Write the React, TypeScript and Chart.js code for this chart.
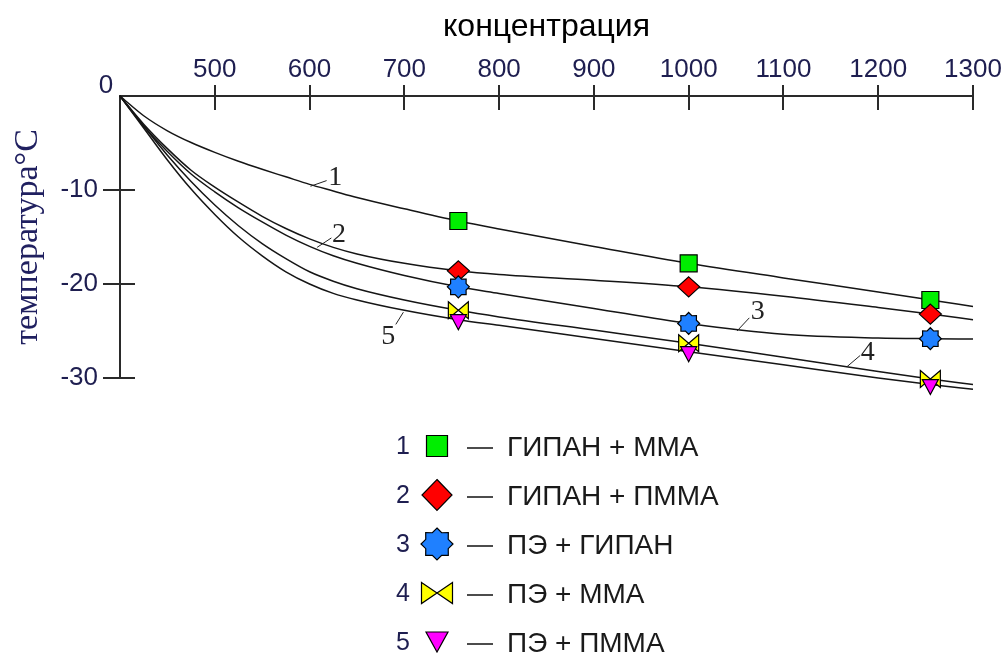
import React, { useEffect, useRef } from 'react';
import { Chart, registerables } from 'chart.js';

Chart.register(...registerables);

// ---- data ----
const xGrid = [400, 425, 450, 475, 500, 525, 550, 575, 600, 625, 650, 700, 757, 800, 900, 1000, 1100, 1200, 1255, 1300];
const series1 = [0, -2.1, -3.7, -4.95, -6.0, -6.95, -7.8, -8.6, -9.4, -10.1, -10.8, -12.0, -13.3, -14.15, -16.0, -17.8, -19.35, -20.85, -21.7, -22.4];
const series2 = [0, -3.0, -5.6, -7.9, -9.7, -11.3, -12.8, -14.1, -15.2, -16.1, -16.8, -17.8, -18.6, -19.0, -19.6, -20.3, -21.3, -22.5, -23.2, -23.8];
const series3 = [0, -3.2, -5.9, -8.3, -10.2, -11.9, -13.4, -14.8, -16.0, -17.0, -17.8, -19.1, -20.3, -21.0, -22.6, -24.2, -25.35, -25.75, -25.82, -25.85];
const series4 = [0, -3.2, -6.3, -9.1, -11.6, -13.8, -15.7, -17.3, -18.7, -19.7, -20.5, -21.7, -22.8, -23.5, -24.9, -26.3, -27.8, -29.3, -30.1, -30.7];
const series5 = [0, -3.4, -6.8, -9.9, -12.6, -15.0, -17.0, -18.7, -20.0, -21.0, -21.7, -22.8, -23.8, -24.4, -25.8, -27.2, -28.6, -30.0, -30.7, -31.2];
const markerX = [757, 1000, 1255];
const seriesNames = ['ГИПАН + ММА', 'ГИПАН + ПММА', 'ПЭ + ГИПАН', 'ПЭ + ММА', 'ПЭ + ПММА'];
const seriesNumbers = ['1', '2', '3', '4', '5'];
const xTicks = [500, 600, 700, 800, 900, 1000, 1100, 1200, 1300];
const yTicks = [0, -10, -20, -30];
const xTitle = 'концентрация';
const yTitle = 'температура°С';
// curve number annotations (data units)
const noteX = [627, 631, 1073, 1189, 683];
const noteY = [-8.7, -14.8, -22.9, -27.3, -25.6];
const leaderFromX = [601, 608, 1051, 1167, 699];
const leaderFromY = [-9.6, -16.1, -25.0, -28.8, -23.0];
const leaderToX = [618, 623, 1064, 1181, 691];
const leaderToY = [-9.0, -15.1, -23.6, -27.6, -24.3];

const allSeries = [series1, series2, series3, series4, series5];

// ---- styles ----
const markerKinds = ['square', 'diamond', 'star', 'bowtie', 'triangle'];
const markerFill = ['#00ee00', '#ff0000', '#1f80ff', '#ffff00', '#ff00ff'];
const plotMarkerSize = [[17, 17], [22, 20], [22, 22], [20, 17], [16, 15]];
const legendMarkerSize = [[21, 21], [30, 31], [32, 32], [31, 21], [22, 20]];

const SANS = '"Liberation Sans", Arial, sans-serif';
const SERIF = '"Liberation Serif", "Times New Roman", serif';
const TICK_COLOR = '#1e1e50';

function shapePath(ctx: CanvasRenderingContext2D, kind: string, cx: number, cy: number, w: number, h: number, centroid: boolean) {
  ctx.beginPath();
  if (kind === 'square') {
    ctx.rect(cx - w / 2, cy - h / 2, w, h);
  } else if (kind === 'diamond') {
    ctx.moveTo(cx, cy - h / 2);
    ctx.lineTo(cx + w / 2, cy);
    ctx.lineTo(cx, cy + h / 2);
    ctx.lineTo(cx - w / 2, cy);
    ctx.closePath();
  } else if (kind === 'star') {
    const R = w / 2;
    const r = R * 0.76;
    for (let i = 0; i < 16; i++) {
      const a = -Math.PI / 2 + (i * Math.PI) / 8;
      const rr = i % 2 === 0 ? R : r;
      const px = cx + rr * Math.cos(a);
      const py = cy + rr * Math.sin(a);
      if (i === 0) ctx.moveTo(px, py);
      else ctx.lineTo(px, py);
    }
    ctx.closePath();
  } else if (kind === 'bowtie') {
    ctx.moveTo(cx - w / 2, cy - h / 2);
    ctx.lineTo(cx, cy);
    ctx.lineTo(cx - w / 2, cy + h / 2);
    ctx.closePath();
    ctx.moveTo(cx + w / 2, cy - h / 2);
    ctx.lineTo(cx, cy);
    ctx.lineTo(cx + w / 2, cy + h / 2);
    ctx.closePath();
  } else {
    // downward triangle; anchored at centroid in the plot
    const top = centroid ? cy - h / 3 : cy - h / 2;
    ctx.moveTo(cx - w / 2, top);
    ctx.lineTo(cx + w / 2, top);
    ctx.lineTo(cx, top + h);
    ctx.closePath();
  }
}

function drawShape(ctx: CanvasRenderingContext2D, kind: string, fill: string, cx: number, cy: number, w: number, h: number, centroid = false) {
  ctx.save();
  shapePath(ctx, kind, cx, cy, w, h, centroid);
  ctx.fillStyle = fill;
  ctx.fill();
  ctx.strokeStyle = '#000';
  ctx.lineWidth = 1.2;
  ctx.lineJoin = 'miter';
  ctx.stroke();
  ctx.restore();
}

const markerPlugin = {
  id: 'markers',
  afterDatasetsDraw(chart: any) {
    const { ctx } = chart;
    for (let i = 0; i < allSeries.length; i++) {
      const meta = chart.getDatasetMeta(i);
      const [w, h] = plotMarkerSize[i];
      meta.data.forEach((el: any) => {
        drawShape(ctx, markerKinds[i], markerFill[i], el.x, el.y, w, h, true);
      });
    }
  },
};

const overlayPlugin = {
  id: 'overlay',
  afterDraw(chart: any) {
    const { ctx, chartArea } = chart;
    const xs = chart.scales.x;
    const ys = chart.scales.y;
    ctx.save();
    // tick marks crossing the axes
    ctx.strokeStyle = '#2a2a2a';
    ctx.lineWidth = 2;
    ctx.beginPath();
    xTicks.forEach((v) => {
      const px = Math.round(xs.getPixelForValue(v));
      ctx.moveTo(px, chartArea.top - 11);
      ctx.lineTo(px, chartArea.top + 14);
    });
    yTicks.filter((v) => v !== 0).forEach((v) => {
      const py = Math.round(ys.getPixelForValue(v));
      ctx.moveTo(chartArea.left - 17, py);
      ctx.lineTo(chartArea.left + 15, py);
    });
    ctx.stroke();

    // "0" label at the corner
    ctx.fillStyle = TICK_COLOR;
    ctx.font = `26px ${SANS}`;
    ctx.textAlign = 'center';
    ctx.textBaseline = 'middle';
    ctx.fillText('0', xs.getPixelForValue(xGrid[0]) - 14, ys.getPixelForValue(yTicks[0]) - 10);

    // curve numbers with leader lines
    ctx.strokeStyle = '#222';
    ctx.lineWidth = 1;
    ctx.fillStyle = '#222';
    ctx.font = `28px ${SERIF}`;
    for (let i = 0; i < noteX.length; i++) {
      ctx.beginPath();
      ctx.moveTo(xs.getPixelForValue(leaderFromX[i]), ys.getPixelForValue(leaderFromY[i]));
      ctx.lineTo(xs.getPixelForValue(leaderToX[i]), ys.getPixelForValue(leaderToY[i]));
      ctx.stroke();
      ctx.fillText(seriesNumbers[i], xs.getPixelForValue(noteX[i]), ys.getPixelForValue(noteY[i]));
    }

    // legend
    const rowY0 = 446;
    const step = 49;
    for (let i = 0; i < seriesNames.length; i++) {
      const y = rowY0 + i * step;
      ctx.fillStyle = TICK_COLOR;
      ctx.font = `25px ${SANS}`;
      ctx.textAlign = 'right';
      ctx.textBaseline = 'middle';
      ctx.fillText(seriesNumbers[i], 410, y + 1);
      const [w, h] = legendMarkerSize[i];
      drawShape(ctx, markerKinds[i], markerFill[i], 437, y, w, h);
      ctx.strokeStyle = '#111';
      ctx.lineWidth = 1.5;
      ctx.beginPath();
      ctx.moveTo(467, y + 2);
      ctx.lineTo(493, y + 2);
      ctx.stroke();
      ctx.fillStyle = '#1a1a1a';
      ctx.font = `28px ${SANS}`;
      ctx.textAlign = 'left';
      ctx.fillText(seriesNames[i], 507, y + 2);
    }
    ctx.restore();
  },
};

export default function App() {
  const ref = useRef<HTMLCanvasElement | null>(null);
  useEffect(() => {
    document.body.style.margin = '0';
    const canvas = ref.current!;
    const markerSets = allSeries.map((s, i) => ({
      label: seriesNames[i] + ' markers',
      data: markerX.map((x) => ({ x, y: s[xGrid.indexOf(x)] })),
      showLine: false,
      pointRadius: 0,
      clip: false as const,
      order: 5 - i,
    }));
    const lineSets = allSeries.map((s, i) => ({
      label: seriesNames[i],
      data: xGrid.map((x, k) => ({ x, y: s[k] })),
      showLine: true,
      borderColor: '#151515',
      borderWidth: 1.5,
      pointRadius: 0,
      cubicInterpolationMode: 'monotone' as const,
      clip: false as const,
      order: 100,
    }));
    const chart = new Chart(canvas, {
      type: 'scatter',
      data: { datasets: [...markerSets, ...lineSets] as any },
      options: {
        animation: false,
        responsive: false,
        devicePixelRatio: 1,
        events: [],
        layout: { padding: { left: 0, top: 0, right: 33, bottom: 275 } },
        plugins: { legend: { display: false }, tooltip: { enabled: false } },
        scales: {
          x: {
            type: 'linear',
            position: 'top',
            min: xGrid[0],
            max: xGrid[xGrid.length - 1],
            afterFit: (s: any) => { s.height = 96; },
            ticks: {
              stepSize: 100,
              padding: 0,
              color: TICK_COLOR,
              font: { family: SANS, size: 26 },
              callback: (v: any) => (xTicks.includes(Number(v)) ? String(v) : ''),
            },
            grid: { display: false, drawTicks: true, tickLength: 11 },
            border: { display: true, color: '#2a2a2a', width: 2 },
            title: {
              display: true,
              text: xTitle,
              color: '#000',
              font: { family: SANS, size: 32 },
              padding: { top: 8, bottom: 0 },
            },
          },
          y: {
            type: 'linear',
            position: 'left',
            min: yTicks[yTicks.length - 1],
            max: yTicks[0],
            afterFit: (s: any) => { s.width = 120; },
            ticks: {
              stepSize: 10,
              padding: 11,
              color: TICK_COLOR,
              font: { family: SANS, size: 26 },
              callback: (v: any) => (Number(v) === 0 ? '' : String(v)),
            },
            grid: { display: false, drawTicks: true, tickLength: 11 },
            border: { display: true, color: '#2a2a2a', width: 2 },
            title: {
              display: true,
              text: yTitle,
              color: '#202060',
              font: { family: SERIF, size: 34 },
              padding: { top: 8, bottom: 0 },
            },
          },
        },
      },
      plugins: [markerPlugin, overlayPlugin],
    });
    return () => chart.destroy();
  }, []);
  return <canvas ref={ref} width={1006} height={653} style={{ display: 'block', width: 1006, height: 653 }} />;
}
